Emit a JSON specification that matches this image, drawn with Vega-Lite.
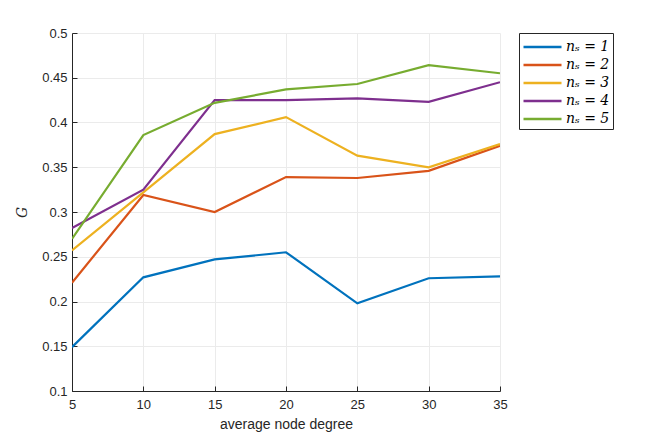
{
  "$schema": "https://vega.github.io/schema/vega-lite/v6.json",
  "autosize": "none",
  "width": 428,
  "height": 358,
  "padding": {"left": 72, "top": 33, "right": 164, "bottom": 49},
  "background": "white",
  "data": {
    "values": [
      {"degree": 5, "series": "nₛ = 1", "G": 0.149},
      {"degree": 10, "series": "nₛ = 1", "G": 0.227},
      {"degree": 15, "series": "nₛ = 1", "G": 0.247},
      {"degree": 20, "series": "nₛ = 1", "G": 0.255},
      {"degree": 25, "series": "nₛ = 1", "G": 0.198},
      {"degree": 30, "series": "nₛ = 1", "G": 0.226},
      {"degree": 35, "series": "nₛ = 1", "G": 0.228},
      {"degree": 5, "series": "nₛ = 2", "G": 0.221},
      {"degree": 10, "series": "nₛ = 2", "G": 0.319},
      {"degree": 15, "series": "nₛ = 2", "G": 0.300},
      {"degree": 20, "series": "nₛ = 2", "G": 0.339},
      {"degree": 25, "series": "nₛ = 2", "G": 0.338},
      {"degree": 30, "series": "nₛ = 2", "G": 0.346},
      {"degree": 35, "series": "nₛ = 2", "G": 0.374},
      {"degree": 5, "series": "nₛ = 3", "G": 0.257},
      {"degree": 10, "series": "nₛ = 3", "G": 0.322},
      {"degree": 15, "series": "nₛ = 3", "G": 0.387},
      {"degree": 20, "series": "nₛ = 3", "G": 0.406},
      {"degree": 25, "series": "nₛ = 3", "G": 0.363},
      {"degree": 30, "series": "nₛ = 3", "G": 0.350},
      {"degree": 35, "series": "nₛ = 3", "G": 0.376},
      {"degree": 5, "series": "nₛ = 4", "G": 0.282},
      {"degree": 10, "series": "nₛ = 4", "G": 0.325},
      {"degree": 15, "series": "nₛ = 4", "G": 0.425},
      {"degree": 20, "series": "nₛ = 4", "G": 0.425},
      {"degree": 25, "series": "nₛ = 4", "G": 0.427},
      {"degree": 30, "series": "nₛ = 4", "G": 0.423},
      {"degree": 35, "series": "nₛ = 4", "G": 0.445},
      {"degree": 5, "series": "nₛ = 5", "G": 0.270},
      {"degree": 10, "series": "nₛ = 5", "G": 0.386},
      {"degree": 15, "series": "nₛ = 5", "G": 0.422},
      {"degree": 20, "series": "nₛ = 5", "G": 0.437},
      {"degree": 25, "series": "nₛ = 5", "G": 0.443},
      {"degree": 30, "series": "nₛ = 5", "G": 0.464},
      {"degree": 35, "series": "nₛ = 5", "G": 0.455}
    ]
  },
  "config": {
    "font": "Liberation Sans",
    "view": {"stroke": null},
    "axis": {
      "domainColor": "#262626",
      "domainWidth": 1,
      "tickColor": "#262626",
      "tickSize": -5,
      "labelColor": "#262626",
      "labelFontSize": 13,
      "labelFont": "Liberation Sans",
      "gridColor": "#ebebeb",
      "gridWidth": 1,
      "titleColor": "#262626",
      "titleFontWeight": "normal"
    }
  },
  "mark": {"type": "line", "strokeWidth": 2.2, "clip": true},
  "encoding": {
    "x": {
      "field": "degree",
      "type": "quantitative",
      "scale": {"domain": [5, 35], "nice": false, "zero": false},
      "axis": {
        "values": [5, 10, 15, 20, 25, 30, 35],
        "title": "average node degree",
        "titleFontSize": 14,
        "titlePadding": 6,
        "labelPadding": 12,
        "labelFlush": false
      }
    },
    "y": {
      "field": "G",
      "type": "quantitative",
      "scale": {"domain": [0.1, 0.5], "nice": false, "zero": false},
      "axis": {
        "values": [0.1, 0.15, 0.2, 0.25, 0.3, 0.35, 0.4, 0.45, 0.5],
        "format": ".2~f",
        "title": "G",
        "titleFont": "DejaVu Serif",
        "titleFontStyle": "italic",
        "titleFontSize": 14,
        "titlePadding": 12,
        "labelPadding": 10
      }
    },
    "color": {
      "field": "series",
      "type": "nominal",
      "scale": {
        "domain": ["nₛ = 1", "nₛ = 2", "nₛ = 3", "nₛ = 4", "nₛ = 5"],
        "range": ["#0072BD", "#D95319", "#EDB120", "#7E2F8E", "#77AC30"]
      },
      "legend": {
        "title": null,
        "orient": "none",
        "legendX": 447,
        "legendY": 0,
        "strokeColor": "#262626",
        "fillColor": "white",
        "padding": 3,
        "symbolType": "M-1,0H3",
        "symbolSize": 361,
        "symbolStrokeWidth": 2.5,
        "symbolOffset": 0,
        "labelOffset": 22,
        "labelFont": "DejaVu Serif",
        "labelFontStyle": "italic",
        "labelFontSize": 14,
        "labelColor": "#000000",
        "rowPadding": 0
      }
    }
  }
}
